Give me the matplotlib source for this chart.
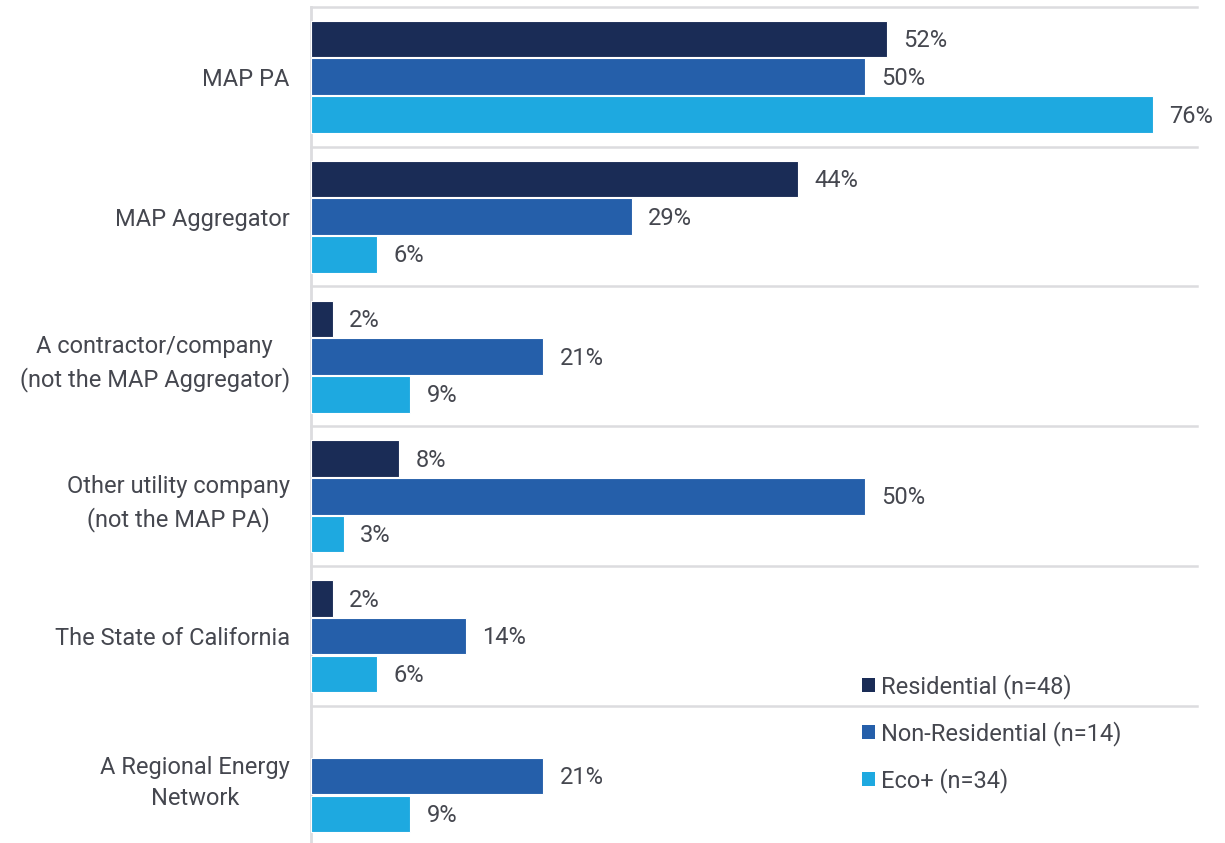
import matplotlib
matplotlib.use("Agg")
import matplotlib.pyplot as plt
from matplotlib.patches import Patch

# Survey responses by program group
categories = [
    "MAP PA",
    "MAP Aggregator",
    "A contractor/company\n(not the MAP Aggregator)",
    "Other utility company\n(not the MAP PA)",
    "The State of California",
    "A Regional Energy\nNetwork",
]
series_names = ["Residential (n=48)", "Non-Residential (n=14)", "Eco+ (n=34)"]
residential = [52, 44, 2, 8, 2, 0]
non_residential = [50, 29, 21, 50, 14, 21]
eco_plus = [76, 6, 9, 3, 6, 9]

colors = ["#1a2c56", "#255faa", "#1ea9e0"]
text_color = "#45474f"
grid_color = "#dcdcdf"

plt.rcParams["font.family"] = ["Roboto", "DejaVu Sans"]
fs = 17

W, H = 1225, 843
fig = plt.figure(figsize=(W / 100, H / 100), dpi=100)
ax_left, ax_right = 310.7, 1197
ax_top, ax_bottom = 6.7, 846
ax = fig.add_axes([ax_left / W, (H - ax_bottom) / H,
                   (ax_right - ax_left) / W, (ax_bottom - ax_top) / H])

n = len(categories)
offsets = [-0.268, 0.0, 0.270]
bar_h = 0.262
all_series = [residential, non_residential, eco_plus]

for vals, off, col in zip(all_series, offsets, colors):
    pts = [(i + off, v) for i, v in enumerate(vals) if v > 0]
    ys = [p[0] for p in pts]
    vs = [p[1] for p in pts]
    ax.barh(ys, vs, height=bar_h, color=col, edgecolor="white", linewidth=0.8, zorder=3)
    for y, v in zip(ys, vs):
        ax.text(v + 1.45, y + 0.012, f"{v}%", va="center", ha="left",
                fontsize=fs, color=text_color)

ax.set_xlim(0, 80)
ax.set_ylim(n - 0.5, -0.5)

# group separators
for k in range(n + 1):
    ax.axhline(k - 0.5, color=grid_color, linewidth=1.8, zorder=1, clip_on=False)

for side in ["top", "right", "bottom"]:
    ax.spines[side].set_visible(False)
ax.spines["left"].set_color(grid_color)
ax.spines["left"].set_linewidth(2)
ax.set_xticks([])
ax.set_yticks(range(n))
ax.set_yticklabels(categories, fontsize=fs, color=text_color, linespacing=1.45)
ax.tick_params(axis="y", length=0, pad=15)
for lbl in ax.get_yticklabels():
    lbl.set_horizontalalignment("right")
    lbl.set_multialignment("center")

handles = [Patch(facecolor=c, edgecolor="none") for c in colors]
leg = fig.legend(handles, series_names, loc="upper left",
                 bbox_to_anchor=(841 / W, 1 - 653 / H), frameon=False,
                 fontsize=fs, labelcolor=text_color, handlelength=0.55,
                 handleheight=0.55, handletextpad=0.25, labelspacing=0.93)

fig.savefig("out.png", dpi=100)
